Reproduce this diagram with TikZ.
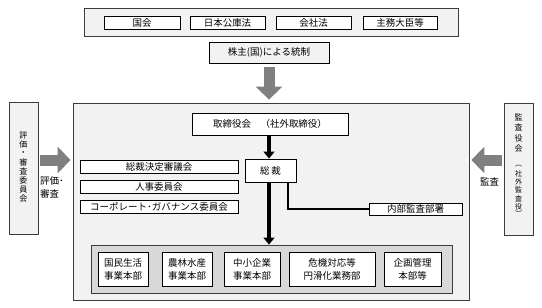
\documentclass[tikz,border=0pt]{standalone}
\usepackage{fontspec}
\setmainfont{Noto Sans CJK JP}
\usetikzlibrary{arrows.meta, positioning}
\usepackage{xcolor}
\definecolor{panelgray}{RGB}{242,242,242}
\definecolor{groupgray}{RGB}{216,216,216}
\definecolor{arrowgray}{RGB}{128,128,128}
\definecolor{edgegray}{RGB}{60,60,60}

\tikzset{
  frame/.style={draw=edgegray, line width=0.8pt, fill=panelgray, inner sep=0pt},
  unitbox/.style={draw, line width=0.9pt, fill=white, inner sep=0pt, align=center,
    font=\fontsize{9.5}{13}\selectfont},
  vchar/.style={inner sep=0pt, font=\fontsize{8}{8}\selectfont},
  vsmall/.style={inner sep=0pt, font=\fontsize{7}{7}\selectfont},
  bigarrow/.style={arrowgray, line width=11pt, -{Triangle[length=13pt, width=26pt]}},
  blackarrow/.style={black, line width=3.5pt, -{Triangle[length=7pt, width=11pt]}},
}

\begin{document}
\begin{tikzpicture}[x=1pt, y=-1pt, font=\fontsize{9.5}{9.5}\selectfont]
  \useasboundingbox (0,0) rectangle (542,308);

  % laws and ministers
  \node[frame, minimum width=374pt, minimum height=28pt] (law) at (271,22) {};
  \node[unitbox, minimum width=76pt, minimum height=13pt] (kokkai) at (142,22.5) {国会};
  \node[unitbox, minimum width=75pt, minimum height=13pt] (koko) at (227.5,22.5) {日本公庫法};
  \node[unitbox, minimum width=75pt, minimum height=13pt] (kaisha) at (313.5,22.5) {会社法};
  \node[unitbox, minimum width=74pt, minimum height=13pt] (shumu) at (400,22.5) {主務大臣等};
  \node[frame, draw=black, minimum width=120pt, minimum height=21pt] (kabu) at (269,52.5) {株主(国)による統制};

  % main organisation
  \node[frame, minimum width=396pt, minimum height=197pt] (main) at (271,201.5) {};

  % evaluation committee (vertical text)
  \node[frame, minimum width=29pt, minimum height=132pt] (hyoka) at (23.5,168) {};
  \foreach \ch [count=\i] in {評,価,・,審,査,委,員,会}
    \node[vchar] (hyoka-\i) at (23.5,127.1+8.9*\i) {\ch};

  % auditors (vertical text)
  \node[frame, minimum width=29pt, minimum height=132pt] (kansa) at (518.5,169) {};
  \foreach \ch [count=\i] in {監,査,役,会}
    \node[vchar] (kansa-\i) at (518.5,107.2+10.3*\i) {\ch};
  \node[vsmall] (kansa-open) at (518.5,166) {︵};
  \foreach \ch [count=\i] in {社,外,監,査,役}
    \node[vsmall] (kansa-sub\i) at (518.5,165.5+8.2*\i) {\ch};
  \node[vsmall] (kansa-close) at (518.5,214) {︶};

  \node[unitbox, minimum width=156pt, minimum height=22pt] (torishimari) at (270,124) {取締役会\quad（社外取締役）};
  \node[unitbox, minimum width=51pt, minimum height=23pt] (sosai) at (270.5,170.5) {総\,裁};
  \node[unitbox, minimum width=158pt, minimum height=13pt] (shingi) at (159,167) {総裁決定審議会};
  \node[unitbox, minimum width=158pt, minimum height=13pt] (jinji) at (159,186.5) {人事委員会};
  \node[unitbox, minimum width=158pt, minimum height=13pt] (cg) at (159,207) {コーポレート･ガバナンス委員会};
  \node[unitbox, minimum width=93pt, minimum height=12pt] (naibu) at (415.5,209) {内部監査部署};

  % business units
  \node[frame, fill=groupgray, minimum width=361pt, minimum height=48pt] (group) at (271.5,269) {};
  \node[unitbox, minimum width=50pt, minimum height=34pt] (kokumin) at (123,269) {国民生活\\事業本部};
  \node[unitbox, minimum width=50pt, minimum height=34pt] (norin) at (187,269) {農林水産\\事業本部};
  \node[unitbox, minimum width=56pt, minimum height=34pt] (chusho) at (252,269) {中小企業\\事業本部};
  \node[unitbox, minimum width=86pt, minimum height=34pt] (kiki) at (332,269) {危機対応等\\円滑化業務部};
  \node[unitbox, minimum width=57pt, minimum height=34pt] (kikaku) at (412.5,269) {企画管理\\本部等};

  % arrow labels
  \node[anchor=north west, inner sep=0pt, align=left, font=\fontsize{9.5}{13}\selectfont] (hyokalbl) at (40,176) {評価･\\審査};
  \node[inner sep=0pt] (kansalbl) at (489.5,182) {監査};

  % connectors
  \draw[bigarrow, shorten <=4pt, shorten >=3pt] (kabu.south) -- (kabu.south |- main.north);
  \draw[bigarrow, shorten <=2pt, shorten >=2pt] (hyoka.east |- 0,160) -- (main.west |- 0,160);
  \draw[bigarrow, shorten <=2pt, shorten >=2pt] (kansa.west |- 0,160) -- (main.east |- 0,160);
  \draw[blackarrow] ([xshift=-1pt]torishimari.south) -- ([xshift=-1.5pt]sosai.north);
  \draw[blackarrow] ([xshift=-1.5pt]sosai.south) -- ([xshift=-1.5pt]sosai.south |- group.north);
  \draw[line width=2.2pt] ([xshift=17.5pt]sosai.south) |- (naibu.west);
\end{tikzpicture}
\end{document}
